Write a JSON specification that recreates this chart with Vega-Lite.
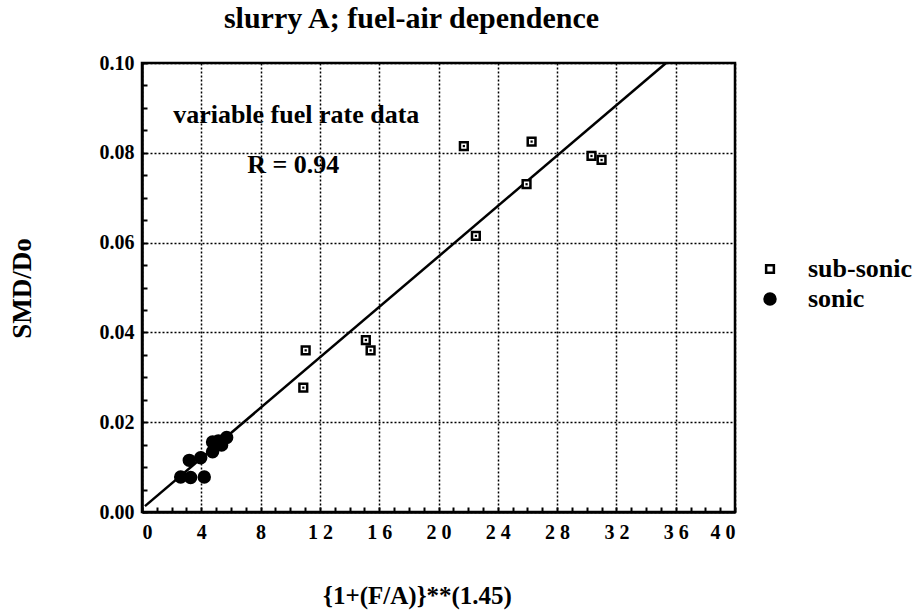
{
  "$schema": "https://vega.github.io/schema/vega-lite/v6.json",
  "width": 593,
  "height": 449,
  "autosize": "none",
  "padding": {"left": 142, "top": 63, "right": 184, "bottom": 101},
  "background": "white",
  "title": {
    "text": "slurry A; fuel-air dependence",
    "font": "Liberation Serif",
    "fontSize": 30,
    "fontWeight": "bold",
    "color": "black",
    "anchor": "middle",
    "dx": -27,
    "offset": 19
  },
  "config": {
    "view": {"stroke": "black", "strokeWidth": 2.5},
    "font": "Liberation Serif",
    "legend": {
      "orient": "none", "legendX": 615, "legendY": 193, "title": null,
      "labelFont": "Liberation Serif", "labelFontSize": 26, "labelFontWeight": "bold",
      "labelColor": "black", "labelOffset": 25, "rowPadding": 4,
      "symbolStrokeWidth": 2.5
    }
  },
  "datasets": {
    "points": [
      {"x": 21.71, "y": 0.0815, "type": "sub-sonic"},
      {"x": 26.28, "y": 0.0825, "type": "sub-sonic"},
      {"x": 30.32, "y": 0.0793, "type": "sub-sonic"},
      {"x": 31.0, "y": 0.0784, "type": "sub-sonic"},
      {"x": 25.94, "y": 0.073, "type": "sub-sonic"},
      {"x": 22.52, "y": 0.0615, "type": "sub-sonic"},
      {"x": 11.04, "y": 0.036, "type": "sub-sonic"},
      {"x": 10.88, "y": 0.0277, "type": "sub-sonic"},
      {"x": 15.1, "y": 0.0383, "type": "sub-sonic"},
      {"x": 15.42, "y": 0.036, "type": "sub-sonic"},
      {"x": 2.61, "y": 0.0078, "type": "sonic"},
      {"x": 3.28, "y": 0.0077, "type": "sonic"},
      {"x": 3.19, "y": 0.0115, "type": "sonic"},
      {"x": 4.2, "y": 0.0078, "type": "sonic"},
      {"x": 3.96, "y": 0.0121, "type": "sonic"},
      {"x": 4.76, "y": 0.0156, "type": "sonic"},
      {"x": 4.76, "y": 0.0134, "type": "sonic"},
      {"x": 5.37, "y": 0.0149, "type": "sonic"},
      {"x": 5.71, "y": 0.0166, "type": "sonic"},
      {"x": 5.15, "y": 0.0158, "type": "sonic"}
    ],
    "fit": [
      {"x": 0.2, "y": 0.0013},
      {"x": 35.35, "y": 0.1}
    ],
    "notes": [
      {"x": 2.1, "y": 0.0884, "label": "variable fuel rate data"},
      {"x": 7.1, "y": 0.0772, "label": "R = 0.94"}
    ],
    "minor": [
      {"x": 0, "y": 0}
    ]
  },
  "resolve": {"axis": {"x": "independent", "y": "independent"}},
  "layer": [
    {
      "data": {"name": "minor"},
      "mark": {"type": "point", "opacity": 0},
      "encoding": {
        "x": {
          "field": "x", "type": "quantitative",
          "scale": {"domain": [0, 40], "nice": false, "zero": false},
          "axis": {
            "orient": "bottom",
            "values": [0,1,2,3,4,5,6,7,8,9,10,11,12,13,14,15,16,17,18,19,20,21,22,23,24,25,26,27,28,29,30,31,32,33,34,35,36,37,38,39,40],
            "labels": false, "grid": false, "domain": false, "title": null,
            "tickSize": -5, "tickColor": "black", "tickWidth": 2
          }
        },
        "y": {
          "field": "y", "type": "quantitative",
          "scale": {"domain": [0, 0.1], "nice": false},
          "axis": {
            "orient": "left",
            "values": [0,0.005,0.01,0.015,0.02,0.025,0.03,0.035,0.04,0.045,0.05,0.055,0.06,0.065,0.07,0.075,0.08,0.085,0.09,0.095,0.1],
            "labels": false, "grid": false, "domain": false, "title": null,
            "tickSize": -5, "tickColor": "black", "tickWidth": 2
          }
        }
      }
    },
    {
      "data": {"name": "fit"},
      "mark": {"type": "line", "color": "black", "strokeWidth": 2.5},
      "encoding": {
        "x": {
          "field": "x", "type": "quantitative",
          "axis": {
            "orient": "bottom",
            "values": [0,4,8,12,16,20,24,28,32,36,40],
            "labelExpr": "join(split(datum.label, ''), ' ')",
            "labelFont": "Liberation Serif", "labelFontSize": 20, "labelFontWeight": "bold",
            "labelColor": "black", "labelPadding": 10,
            "grid": true, "gridColor": "black", "gridDash": [2, 2], "gridWidth": 1.5,
            "domainColor": "black", "domainWidth": 2.5,
            "tickSize": 0,
            "title": "{1+(F/A)}**(1.45)",
            "titleFont": "Liberation Serif", "titleFontSize": 25, "titleFontWeight": "bold",
            "titleColor": "black", "titleX": 275, "titleY": 71
          }
        },
        "y": {
          "field": "y", "type": "quantitative",
          "axis": {
            "orient": "left",
            "values": [0, 0.02, 0.04, 0.06, 0.08, 0.1],
            "format": ".2f",
            "labelFont": "Liberation Serif", "labelFontSize": 20, "labelFontWeight": "bold",
            "labelColor": "black", "labelPadding": 8,
            "grid": true, "gridColor": "black", "gridDash": [2, 2], "gridWidth": 1.5,
            "domainColor": "black", "domainWidth": 2.5,
            "tickSize": 0,
            "title": "SMD/Do",
            "titleFont": "Liberation Serif", "titleFontSize": 27, "titleFontWeight": "bold",
            "titleColor": "black", "titleX": -120, "titleY": 225, "titleAngle": -90,
            "titleAlign": "center", "titleBaseline": "middle"
          }
        }
      }
    },
    {
      "data": {"name": "points"},
      "mark": {"type": "point", "filled": true, "strokeWidth": 2.5, "opacity": 1},
      "encoding": {
        "x": {"field": "x", "type": "quantitative", "axis": null},
        "y": {"field": "y", "type": "quantitative", "axis": null},
        "shape": {
          "field": "type", "type": "nominal",
          "scale": {"domain": ["sub-sonic", "sonic"], "range": ["square", "circle"]}
        },
        "fill": {
          "field": "type", "type": "nominal",
          "scale": {"domain": ["sub-sonic", "sonic"], "range": ["white", "black"]}
        },
        "stroke": {
          "field": "type", "type": "nominal",
          "scale": {"domain": ["sub-sonic", "sonic"], "range": ["black", "black"]}
        },
        "size": {
          "field": "type", "type": "nominal",
          "scale": {"domain": ["sub-sonic", "sonic"], "range": [60, 120]}
        }
      }
    },
    {
      "data": {"name": "points"},
      "transform": [{"filter": "datum.type === 'sub-sonic'"}],
      "mark": {"type": "square", "color": "black", "size": 5, "opacity": 1},
      "encoding": {
        "x": {"field": "x", "type": "quantitative", "axis": null},
        "y": {"field": "y", "type": "quantitative", "axis": null}
      }
    },
    {
      "data": {"name": "notes"},
      "mark": {"type": "text", "align": "left", "baseline": "middle", "font": "Liberation Serif", "fontSize": 26, "fontWeight": "bold", "color": "black"},
      "encoding": {
        "x": {"field": "x", "type": "quantitative", "axis": null},
        "y": {"field": "y", "type": "quantitative", "axis": null},
        "text": {"field": "label"}
      }
    }
  ]
}
